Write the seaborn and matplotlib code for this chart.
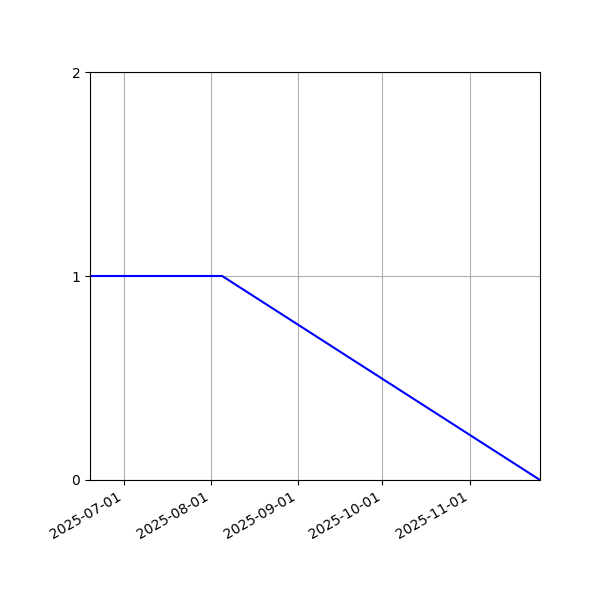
import matplotlib
matplotlib.use('Agg')
import matplotlib.pyplot as plt
import matplotlib.dates as mdates
import pandas as pd
import seaborn as sns

dates = ['2025-06-19', '2025-08-05', '2025-11-26']
values = [1, 1, 0]

df = pd.DataFrame({'date': pd.to_datetime(dates), 'value': values})

fig, ax = plt.subplots(figsize=(6, 6), dpi=100)
sns.lineplot(data=df, x='date', y='value', color='blue', ax=ax)
ax.set_xlim(df['date'].min(), df['date'].max())
ax.set_ylim(0, 2)
ax.set_yticks([0, 1, 2])
ax.xaxis.set_major_locator(mdates.MonthLocator())
ax.xaxis.set_major_formatter(mdates.DateFormatter('%Y-%m-%d'))
ax.set_xlabel('')
ax.set_ylabel('')
ax.grid(True)
fig.autofmt_xdate()
fig.subplots_adjust(left=0.15, right=0.9, top=0.88, bottom=0.2)
fig.savefig('out.png')
